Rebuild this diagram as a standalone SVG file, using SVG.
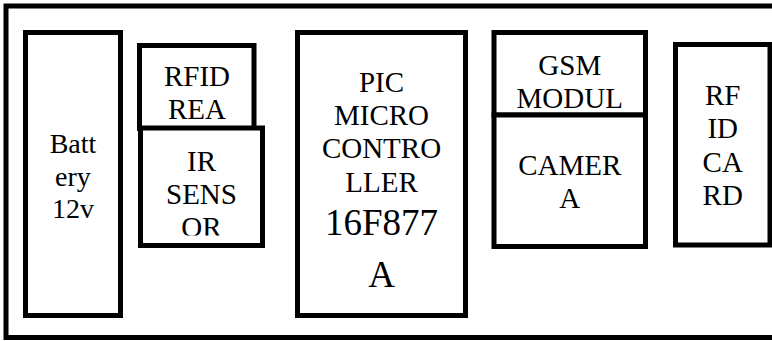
<svg xmlns="http://www.w3.org/2000/svg" width="772" height="341" viewBox="0 0 772 341">
<style>
.box{fill:#fff;stroke:#000;stroke-width:5}
</style>
<defs>
<clipPath id="irclip"><rect x="143" y="130" width="117" height="105.5"/></clipPath>
</defs>
<rect width="772" height="341" fill="#fff"/>
<g id="frame"><rect class="box" x="6" y="6" width="770" height="331.5"/></g>
<g id="battery">
<rect class="box" x="25.5" y="32.5" width="95" height="283"/>
<text style="font-family:'Liberation Serif',serif;font-size:28px;text-anchor:middle" x="73" y="153">Batt</text>
<text style="font-family:'Liberation Serif',serif;font-size:28px;text-anchor:middle" x="73" y="186">ery</text>
<text style="font-family:'Liberation Serif',serif;font-size:28px;text-anchor:middle" x="73" y="218">12v</text>
</g>
<g id="rfid-reader">
<rect class="box" x="139.5" y="45.5" width="114.5" height="83"/>
<text style="font-family:'Liberation Serif',serif;font-size:29px;text-anchor:middle" x="197" y="86">RFID</text>
<text style="font-family:'Liberation Serif',serif;font-size:29px;text-anchor:middle" x="197" y="118.5">REA</text>
</g>
<g id="ir-sensor">
<rect class="box" x="140.5" y="128" width="122" height="117.5"/>
<g clip-path="url(#irclip)">
<text style="font-family:'Liberation Serif',serif;font-size:29px;text-anchor:middle" x="201.5" y="171">IR</text>
<text style="font-family:'Liberation Serif',serif;font-size:29px;text-anchor:middle" x="201.5" y="204">SENS</text>
<text style="font-family:'Liberation Serif',serif;font-size:29px;text-anchor:middle" x="201.5" y="237">OR</text>
</g>
</g>
<g id="pic">
<rect class="box" x="297.5" y="32.5" width="168" height="283"/>
<text style="font-family:'Liberation Serif',serif;font-size:29px;text-anchor:middle" x="381.5" y="91.7">PIC</text>
<text style="font-family:'Liberation Serif',serif;font-size:29px;text-anchor:middle" x="381.5" y="125">MICRO</text>
<text style="font-family:'Liberation Serif',serif;font-size:29px;text-anchor:middle" x="381.5" y="158.3">CONTRO</text>
<text style="font-family:'Liberation Serif',serif;font-size:29px;text-anchor:middle" x="381.5" y="191.7">LLER</text>
<text style="font-family:'Liberation Serif',serif;font-size:37px;text-anchor:middle" x="381.5" y="235">16F877</text>
<text style="font-family:'Liberation Serif',serif;font-size:37px;text-anchor:middle" x="381.5" y="287">A</text>
</g>
<g id="gsm">
<rect class="box" x="494" y="32.5" width="151.5" height="82.5"/>
<text style="font-family:'Liberation Serif',serif;font-size:29px;text-anchor:middle" x="569.75" y="75">GSM</text>
<text style="font-family:'Liberation Serif',serif;font-size:29px;text-anchor:middle" x="569.75" y="108.3">MODUL</text>
</g>
<g id="camera">
<rect class="box" x="494" y="115" width="151.5" height="131.5"/>
<text style="font-family:'Liberation Serif',serif;font-size:29px;text-anchor:middle" x="569.75" y="175">CAMER</text>
<text style="font-family:'Liberation Serif',serif;font-size:29px;text-anchor:middle" x="569.75" y="208.3">A</text>
</g>
<g id="rfid-card">
<rect class="box" x="675.5" y="44.5" width="94.5" height="200.5"/>
<text style="font-family:'Liberation Serif',serif;font-size:29px;text-anchor:middle" x="722.75" y="105">RF</text>
<text style="font-family:'Liberation Serif',serif;font-size:29px;text-anchor:middle" x="722.75" y="138.3">ID</text>
<text style="font-family:'Liberation Serif',serif;font-size:29px;text-anchor:middle" x="722.75" y="171.7">CA</text>
<text style="font-family:'Liberation Serif',serif;font-size:29px;text-anchor:middle" x="722.75" y="205">RD</text>
</g>
<g id="connectors"></g>
</svg>
